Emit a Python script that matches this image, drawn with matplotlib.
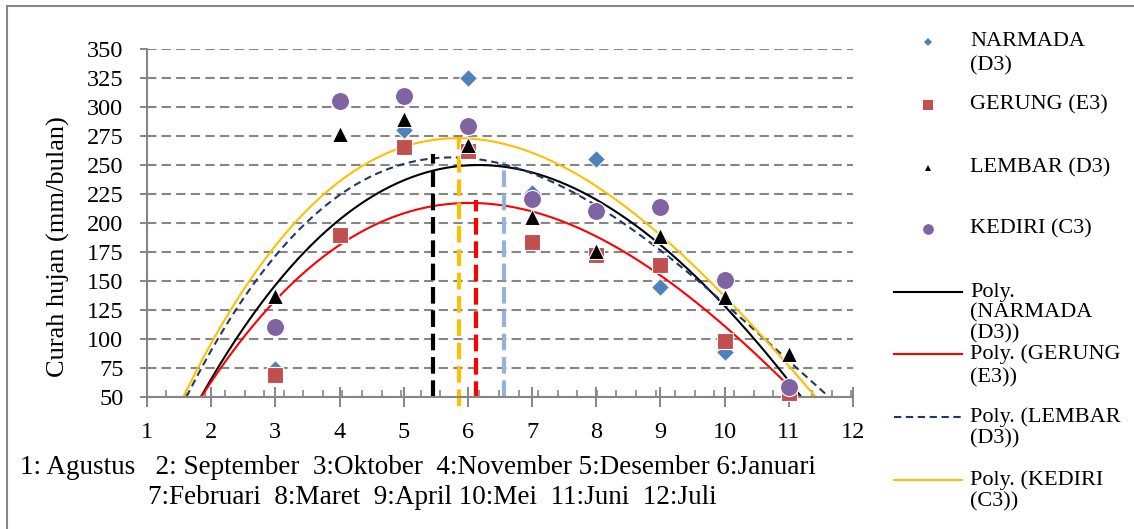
import numpy as np
import matplotlib
matplotlib.use('Agg')
import matplotlib.pyplot as plt
from matplotlib.lines import Line2D
from matplotlib.patches import Rectangle
from matplotlib.ticker import FixedLocator

plt.rcParams['font.family'] = ['Liberation Serif', 'DejaVu Serif']

# curah hujan bulanan (bulan ke-3 .. ke-11), mm/bulan
bulan = [3, 4, 5, 6, 7, 8, 9, 10, 11]
narmada = [74, 305, 280, 325, 226, 255, 145, 89, 56]
gerung = [69, 190, 266, 262, 184, 172, 164, 98, 53]
lembar = [137, 277, 290, 267, 205, 176, 189, 136, 87]
kediri = [110, 305, 310, 284, 221, 210, 214, 151, 58]

# values read along each poly. trendline in the picture
tr_narmada_x = [1.85, 2.11, 2.37, 2.71, 3, 3.49, 4, 5, 6, 7, 8, 9, 10, 10.56, 11, 11.18]
tr_narmada_y = [50, 75, 100, 125, 147, 177, 201, 239, 250, 243, 217, 184, 129, 93, 64, 50]
tr_gerung_x = [1.85, 2.15, 2.44, 3, 3.36, 3.9, 4, 5, 6, 7, 8, 9, 10, 10.35, 11, 11.2]
tr_gerung_y = [50, 75, 100, 131, 150, 177, 181, 209, 218.5, 211, 188, 156, 110, 90, 60, 50]
tr_lembar_x = [1.62, 3, 3.05, 4, 5, 6, 7, 8, 9, 10, 11, 11.63]
tr_lembar_y = [50, 171, 176.7, 224, 250, 256, 244, 212.5, 179, 130, 80, 50]
tr_kediri_x = [1.61, 1.8, 2.01, 2.27, 2.55, 2.98, 4, 5, 5.88, 6, 7, 8, 9, 10, 11, 11.42]
tr_kediri_y = [50, 75, 100, 125, 150, 177, 233, 263, 276, 276, 258.5, 229, 192, 138, 75, 50]

# vertical dashed peak markers
puncak_x = [5.455, 5.866, 6.126, 6.557]
puncak_atas = [260, 274, 220, 253]
puncak_bawah = [50, 42, 49, 50]
puncak_warna = ['#000000', '#FFC000', '#FF0000', '#95B3D7']

nama_bulan_1 = "1: Agustus   2: September  3:Oktober  4:November 5:Desember 6:Januari"
nama_bulan_2 = "7:Februari  8:Maret  9:April 10:Mei  11:Juni  12:Juli"

W, H = 1134, 529
fig = plt.figure(figsize=(W / 100, H / 100), dpi=100)
ax = fig.add_axes([147 / W, 1 - 396.7 / H, (853 - 147) / W, (396.7 - 49.3) / H])

grey = '#868686'

# trendlines (cubic through the readings)
xs = np.linspace(1, 12, 500)
trends = [(tr_narmada_x, tr_narmada_y, '#000000', '-'),
          (tr_gerung_x, tr_gerung_y, '#FF0000', '-'),
          (tr_lembar_x, tr_lembar_y, '#1F3864', (0, (3.5, 2.2))),
          (tr_kediri_x, tr_kediri_y, '#FFC000', '-')]
for tx, ty, c, ls in trends:
    coef = np.polyfit(tx, ty, 3)
    ax.plot(xs, np.polyval(coef, xs), color=c, lw=1.5, ls=ls, zorder=2)

for px, top, bot, c in zip(puncak_x, puncak_atas, puncak_bawah, puncak_warna):
    ax.plot([px, px], [bot, top], color=c, lw=3, ls=(0, (4, 1.6)), zorder=2.5, clip_on=False)

# data points
ax.plot(bulan, narmada, ls='none', marker='D', ms=8.7, color='#4F81BD', mec='white', mew=0.8, zorder=3, clip_on=False)
ax.plot(bulan, gerung, ls='none', marker='s', ms=11.5, color='#C0504D', mec='white', mew=0.8, zorder=3.1, clip_on=False)
ax.plot(bulan, lembar, ls='none', marker='^', ms=11, color='#000000', mec='white', mew=0.8, zorder=3.2, clip_on=False)
ax.plot(bulan, kediri, ls='none', marker='o', ms=13, color='#8064A2', mec='white', mew=0.8, zorder=3.3, clip_on=False)

ax.set_xlim(1, 12)
ax.set_ylim(50, 350)
ax.set_xticks(range(1, 13))
ax.set_yticks(range(50, 351, 25))
ax.xaxis.set_minor_locator(FixedLocator(np.arange(1.3, 12, 0.305)))
ax.tick_params(axis='y', direction='out', length=5, width=1.4, color=grey, pad=12, labelsize=17.5)
ax.tick_params(axis='x', which='major', direction='inout', length=14, width=1.4, color=grey, pad=11, labelsize=17.5)
ax.tick_params(axis='x', which='minor', direction='in', length=5, width=1.2, color=grey)

for s in ['top', 'right']:
    ax.spines[s].set_visible(False)
for s in ['left', 'bottom']:
    ax.spines[s].set_color(grey)
    ax.spines[s].set_linewidth(1.5)

ax.yaxis.grid(True, color=grey, lw=1.5, ls=(0, (4.5, 2.5)))
ax.set_axisbelow(True)

fig.text(58 / W, 1 - 247 / H, 'Curah hujan (mm/bulan)', rotation=90, ha='center', va='center', fontsize=19)

fig.text(20 / W, 1 - 467 / H, nama_bulan_1, ha='left', va='center', fontsize=19.5)
fig.text(148 / W, 1 - 498 / H, nama_bulan_2, ha='left', va='center', fontsize=19.5)

# legend, Excel style
leg_y = [42, 105, 168, 229, 292, 354, 417, 480]
leg_step = [24, 24, 24, 24, 21, 24, 22, 22]
leg_text = [['NARMADA', '(D3)'], ['GERUNG (E3)'], ['LEMBAR (D3)'], ['KEDIRI (C3)'],
            ['Poly.', '(NARMADA', '(D3))'], ['Poly. (GERUNG', '(E3))'],
            ['Poly. (LEMBAR', '(D3))'], ['Poly. (KEDIRI', '(C3))']]
leg_handles = [dict(marker='D', ms=3.8, color='#4F81BD', ls='none'),
               dict(marker='s', ms=6.7, color='#C0504D', ls='none'),
               dict(marker='^', ms=5, color='#000000', ls='none'),
               dict(marker='o', ms=7.7, color='#8064A2', ls='none'),
               dict(color='#000000', lw=1.5),
               dict(color='#FF0000', lw=1.5),
               dict(color='#1F3864', lw=1.5, ls=(0, (3.5, 2.2))),
               dict(color='#FFC000', lw=1.5)]
for y, step, lines, hs in zip(leg_y, leg_step, leg_text, leg_handles):
    fy = 1 - y / H
    if hs.get('ls') == 'none':
        fig.add_artist(Line2D([928 / W], [fy], transform=fig.transFigure, mew=0, **hs))
    else:
        fig.add_artist(Line2D([894 / W, 962 / W], [fy, fy], transform=fig.transFigure, **hs))
    for i, t in enumerate(lines):
        fig.text(970 / W, 1 - (y + i * step) / H, t, ha='left', va='center', fontsize=16)

fig.add_artist(Rectangle((7 / W, -0.2), 1.2, 1.2 - 6 / H, transform=fig.transFigure,
                         fill=False, edgecolor=grey, lw=1.5))

plt.savefig('out.png', dpi=100)
